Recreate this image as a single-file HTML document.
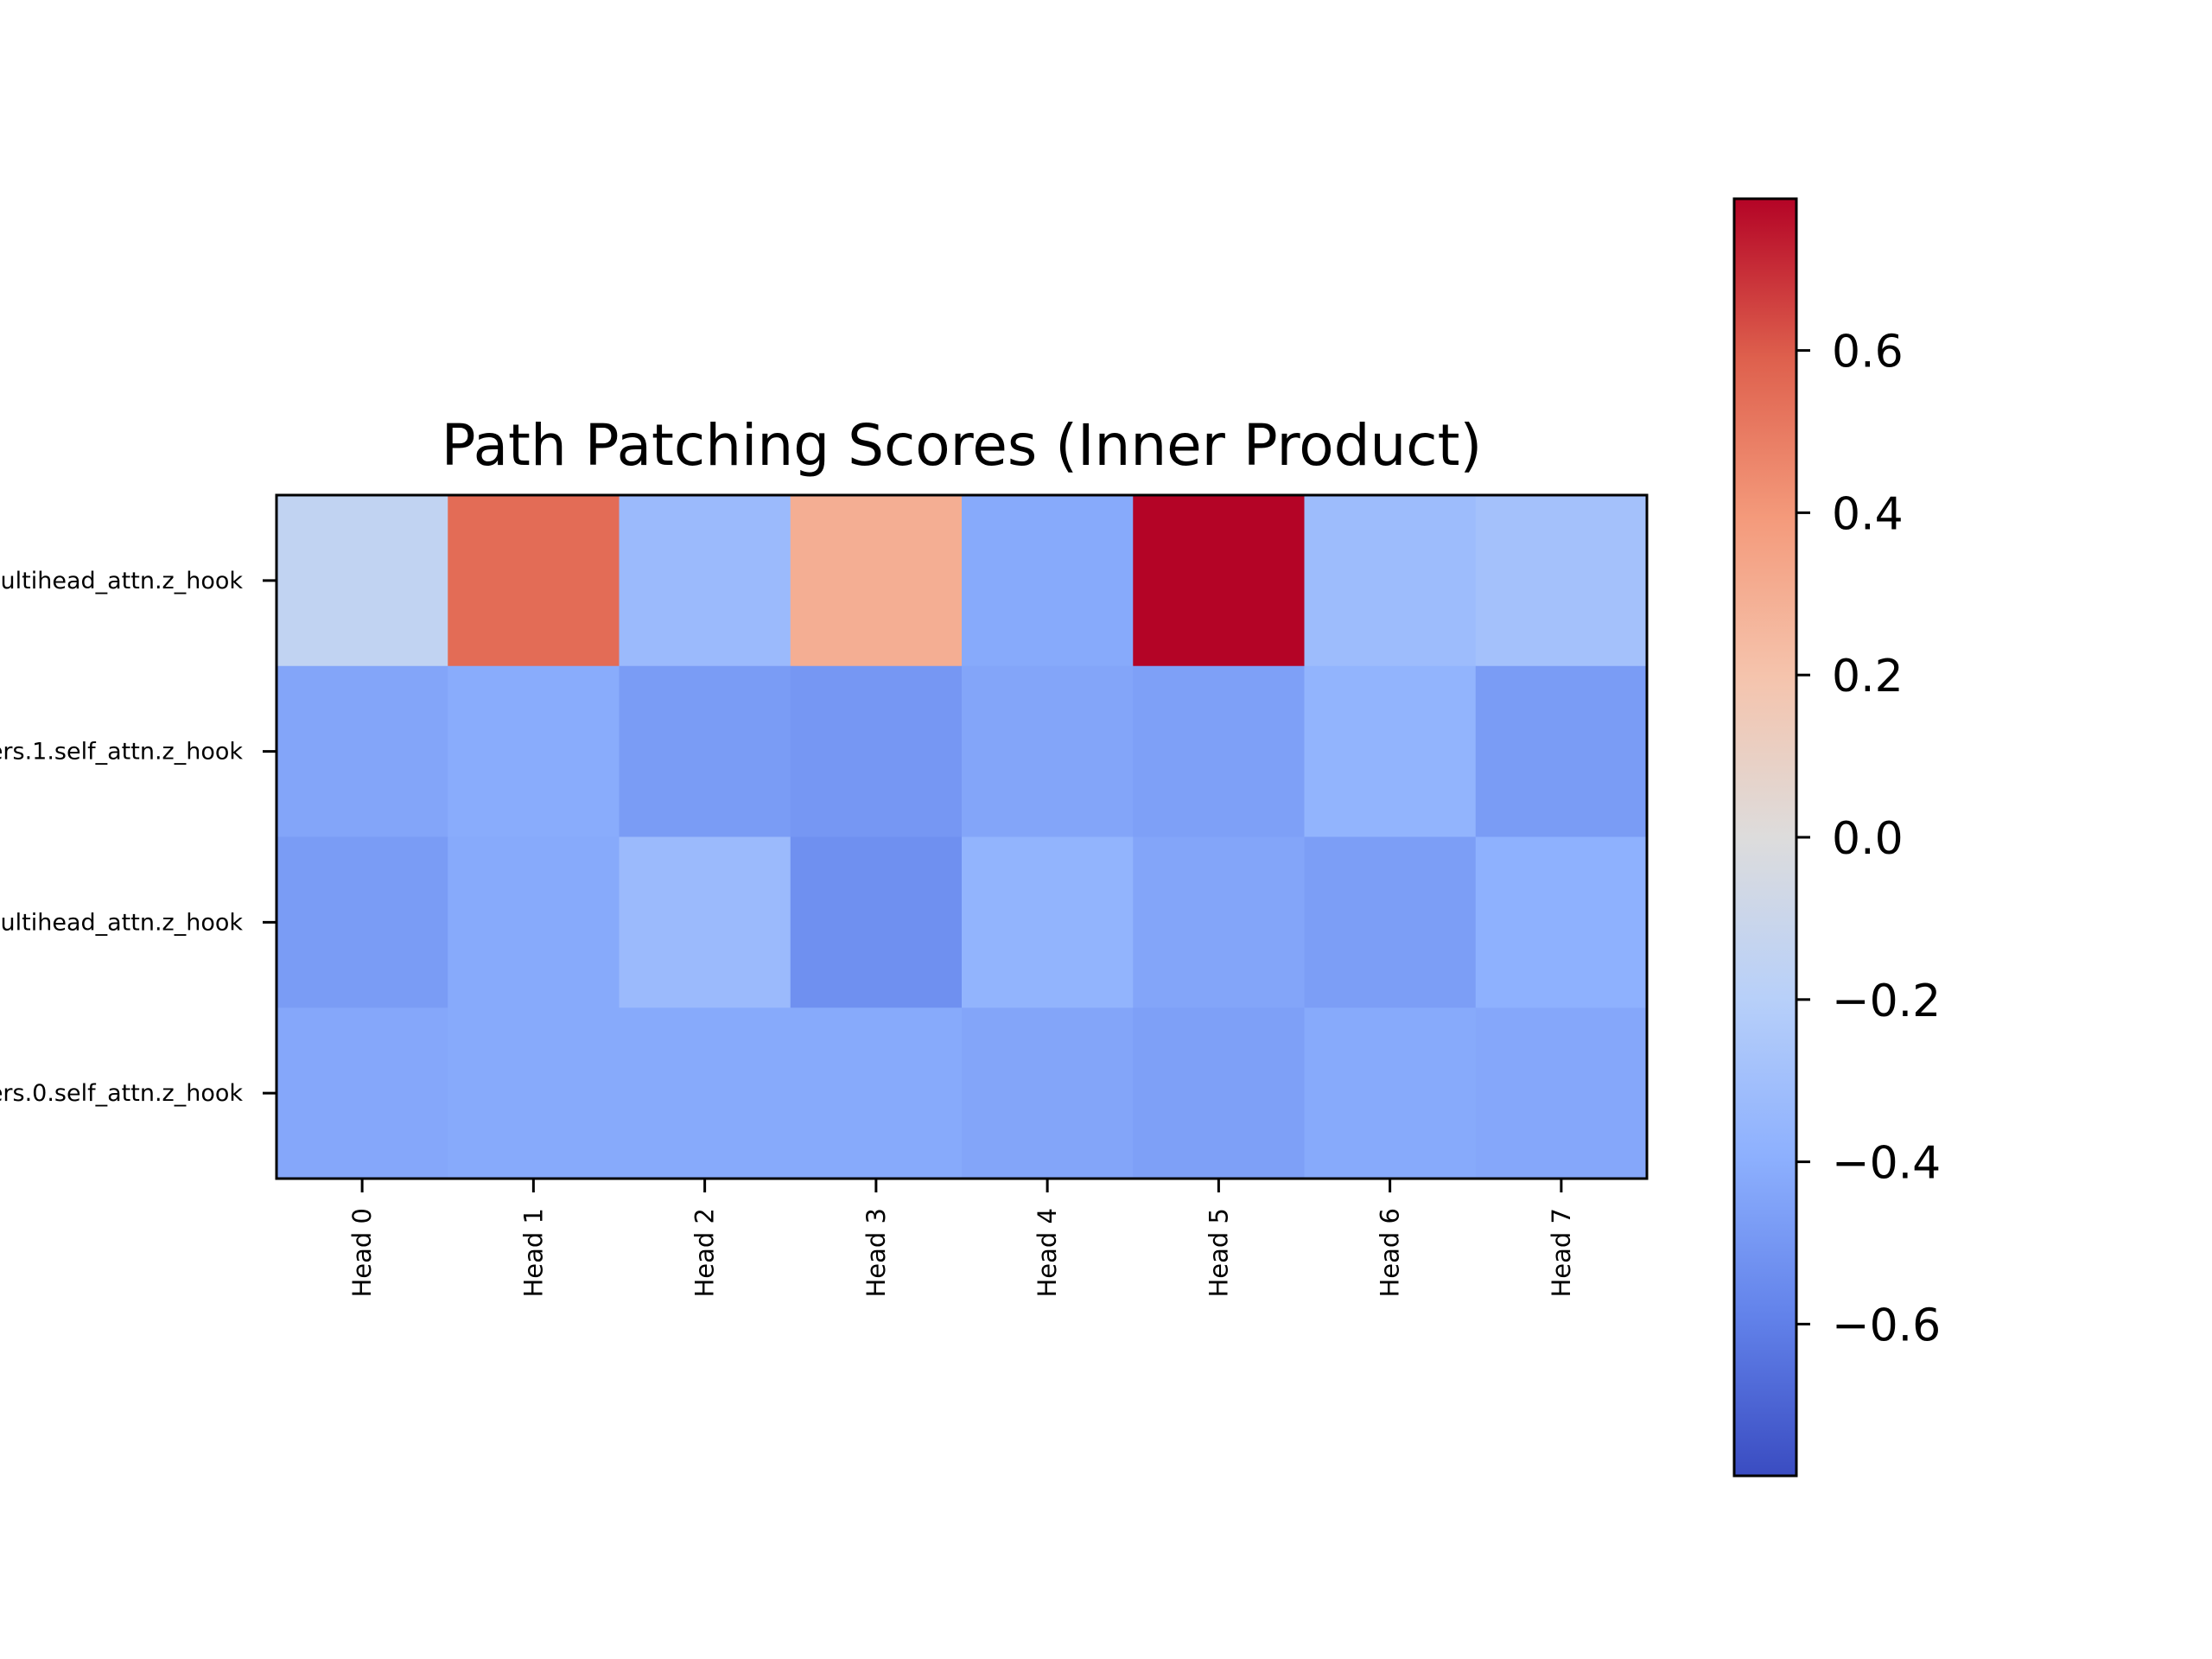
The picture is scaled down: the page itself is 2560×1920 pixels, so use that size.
<!DOCTYPE html>
<html><head><meta charset="utf-8"><style>html,body{margin:0;padding:0;background:#fff}svg{display:block}</style></head>
<body>
<svg id="chart" width="2560" height="1920" viewBox="0 0 2560 1920" xmlns="http://www.w3.org/2000/svg" font-family="DejaVu Sans, Liberation Sans, sans-serif">
<rect width="2560" height="1920" fill="#fff"/>
<text x="1113" y="538" font-size="66" text-anchor="middle">Path Patching Scores (Inner Product)</text>
<g id="cells"></g>
<g id="axes"></g>
<defs><linearGradient id="cg" x1="0" y1="1" x2="0" y2="0"></linearGradient></defs>
<g id="cbar"></g>
</svg>
<script>
const rowLabels = ["decoder.layers.1.multihead_attn.z_hook","decoder.layers.1.self_attn.z_hook","decoder.layers.0.multihead_attn.z_hook","decoder.layers.0.self_attn.z_hook"];
const colLabels = ["Head 0","Head 1","Head 2","Head 3","Head 4","Head 5","Head 6","Head 7"];
const row0 = [-0.15, 0.55, -0.33, 0.30, -0.42, 0.787, -0.32, -0.29];
const row1 = [-0.44, -0.41, -0.48, -0.50, -0.44, -0.46, -0.37, -0.48];
const row2 = [-0.48, -0.42, -0.33, -0.53, -0.37, -0.44, -0.47, -0.39];
const row3 = [-0.43, -0.42, -0.42, -0.42, -0.44, -0.46, -0.42, -0.43];
const cbarTicks = [-0.6, -0.4, -0.2, 0.0, 0.2, 0.4, 0.6];
const vmin = -0.787, vmax = 0.787;
const rows = [row0, row1, row2, row3];

const NS = "http://www.w3.org/2000/svg";
const L = 320, R = 1906, T = 573, B = 1364;
const cw = (R - L) / colLabels.length, ch = (B - T) / rowLabels.length;
const xPos = i => L + i * cw;
const yPos = j => T + j * ch;
const CB = {x: 2007, w: 72, t: 230, b: 1708};
const cbY = v => CB.b - (v - vmin) / (vmax - vmin) * (CB.b - CB.t);

const cmap = [[58,76,193],[98,130,234],[141,176,254],[184,208,249],[221,220,220],[245,196,173],[244,154,123],[222,96,77],[180,4,38]];
function color(v){
  let t = Math.max(0, Math.min(1, (v - vmin) / (vmax - vmin))) * (cmap.length - 1);
  let i = Math.min(Math.floor(t), cmap.length - 2), f = t - i;
  const c = cmap[i].map((a,k)=>Math.round(a + (cmap[i+1][k]-a)*f));
  return `rgb(${c[0]},${c[1]},${c[2]})`;
}
function mk(tag, attrs, parent){
  const e = document.createElementNS(NS, tag);
  for (const k in attrs) e.setAttribute(k, attrs[k]);
  parent.appendChild(e); return e;
}
const cells = document.getElementById('cells');
rows.forEach((r, j) => r.forEach((v, i) => {
  const e = mk('rect', {x: xPos(i), y: yPos(j), width: cw + 0.5, height: ch + 0.5, fill: color(v)}, cells);
  
  
}));
const axes = document.getElementById('axes');
const fr = mk('rect', {x: L, y: T, width: R - L, height: B - T, fill: 'none', stroke: '#000', 'stroke-width': 3}, axes);


rowLabels.forEach((lab, j) => {
  const y = yPos(j) + ch / 2;
  const tk = mk('line', {x1: L - 16, x2: L, y1: y, y2: y, stroke: '#000', 'stroke-width': 3}, axes);
  
  
  const t = mk('text', {x: 281, y: y + 9, 'font-size': 27, 'text-anchor': 'end'}, axes);
  t.textContent = lab;
  
  
});
colLabels.forEach((lab, i) => {
  const x = xPos(i) + cw / 2;
  const tk = mk('line', {x1: x, x2: x, y1: B, y2: B + 16, stroke: '#000', 'stroke-width': 3}, axes);
  
  
  const t = mk('text', {x: 0, y: 0, 'font-size': 29, 'text-anchor': 'end', transform: `translate(${x + 10},1398) rotate(-90)`}, axes);
  t.textContent = lab;
  
  
});
const grad = document.getElementById('cg');
cmap.forEach((c, k) => mk('stop', {offset: (k / (cmap.length - 1)), 'stop-color': `rgb(${c[0]},${c[1]},${c[2]})`}, grad));
const cb = document.getElementById('cbar');
const cbr = mk('rect', {x: CB.x, y: CB.t, width: CB.w, height: CB.b - CB.t, fill: 'url(#cg)', stroke: '#000', 'stroke-width': 3}, cb);


cbarTicks.forEach(v => {
  const y = cbY(v);
  const tk = mk('line', {x1: CB.x + CB.w, x2: CB.x + CB.w + 16, y1: y, y2: y, stroke: '#000', 'stroke-width': 3}, cb);
  
  
  const t = mk('text', {x: 2120, y: y + 19, 'font-size': 52}, cb);
  t.textContent = (v < 0 ? '\u2212' : '') + Math.abs(v).toFixed(1);
  
  
});
</script>
</body></html>
